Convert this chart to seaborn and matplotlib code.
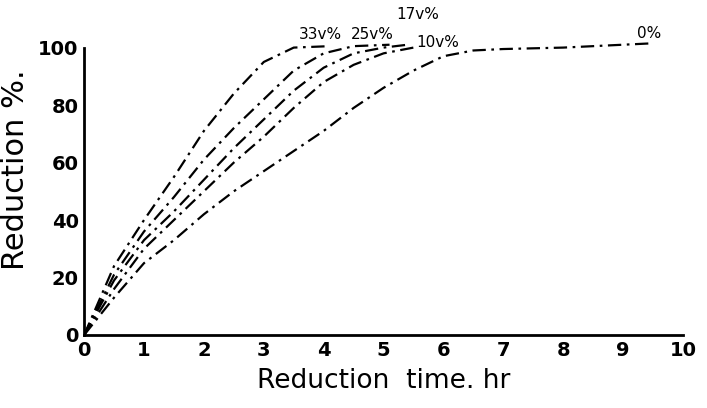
import numpy as np
import pandas as pd
import matplotlib
matplotlib.use("Agg")
import matplotlib.pyplot as plt
import seaborn as sns

# ---------------------------
# Data
# ---------------------------
series_names = ["33v%", "25v%", "17v%", "10v%", "0%"]

t_33 = [0, 0.5, 1, 1.5, 2, 2.5, 3, 3.5, 4.1]
r_33 = [0, 24, 40, 55, 71, 84, 95, 100, 100.5]

t_25 = [0, 0.5, 1, 1.5, 2, 2.5, 3, 3.5, 4, 4.5, 5.1]
r_25 = [0, 21, 36, 48, 61, 72, 82, 92, 98, 100.5, 101]

t_17 = [0, 0.5, 1, 1.5, 2, 2.5, 3, 3.5, 4, 4.5, 5, 5.4]
r_17 = [0, 19, 33, 43, 54, 65, 75, 85, 93, 98, 100, 101]

t_10 = [0, 0.5, 1, 1.5, 2, 2.5, 3, 3.5, 4, 4.5, 5, 5.5]
r_10 = [0, 16, 30, 40, 50, 60, 69, 79, 88, 94, 98, 100]

t_0 = [0, 0.5, 1, 1.5, 2, 2.5, 3, 3.5, 4, 4.5, 5, 5.5, 6, 6.5, 7, 8, 9, 9.5]
r_0 = [0, 13, 25, 33, 42, 50, 57, 64, 71, 79, 86, 92, 97, 99, 99.5, 100, 101, 101.5]

x_ticks = list(range(0, 11))
y_ticks = [0, 20, 40, 60, 80, 100]

# label positions for the curve names
label_x = [3.95, 4.82, 5.57, 5.9, 9.43]
label_y = [104.5, 104.5, 111.5, 101.7, 105]

# ---------------------------
# Build long table
# ---------------------------
frames = []
for name, t, r in zip(series_names,
                      [t_33, t_25, t_17, t_10, t_0],
                      [r_33, r_25, r_17, r_10, r_0]):
    frames.append(pd.DataFrame({"time": t, "reduction": r, "series": name}))
df = pd.concat(frames, ignore_index=True)

# ---------------------------
# Plot
# ---------------------------
sns.set_style("white")
plt.rcParams['font.family'] = ['DejaVu Sans']
plt.rcParams['text.color'] = 'black'
plt.rcParams['axes.labelcolor'] = 'black'
plt.rcParams['xtick.color'] = 'black'
plt.rcParams['ytick.color'] = 'black'

fig = plt.figure(figsize=(7.07, 4.08), dpi=100)
ax = fig.add_axes([0.119, 0.179, 0.847, 0.81])

dash = (6, 2.5, 1.2, 2.5)
sns.lineplot(data=df, x="time", y="reduction", hue="series", style="series",
             palette={n: "black" for n in series_names},
             dashes={n: dash for n in series_names},
             linewidth=1.6, legend=False, ax=ax)

for name, lx, ly in zip(series_names, label_x, label_y):
    ax.text(lx, ly, name, ha="center", va="center", fontsize=11)

ax.set_xlim(0, 10)
ax.set_ylim(0, 115)
ax.set_xticks(x_ticks)
ax.set_yticks(y_ticks)
ax.tick_params(axis="both", length=0, labelsize=14, pad=4)
for lbl in ax.get_xticklabels() + ax.get_yticklabels():
    lbl.set_fontweight("bold")

sns.despine(ax=ax)
ax.spines['left'].set_bounds(0, 100)
ax.spines['left'].set_linewidth(2)
ax.spines['bottom'].set_linewidth(2)
ax.spines['left'].set_color("black")
ax.spines['bottom'].set_color("black")

ax.set_xlabel("Reduction  time. hr", fontsize=19, labelpad=6)
ax.set_ylabel("Reduction %.", fontsize=22, labelpad=6)

fig.savefig("out.png", dpi=100)
